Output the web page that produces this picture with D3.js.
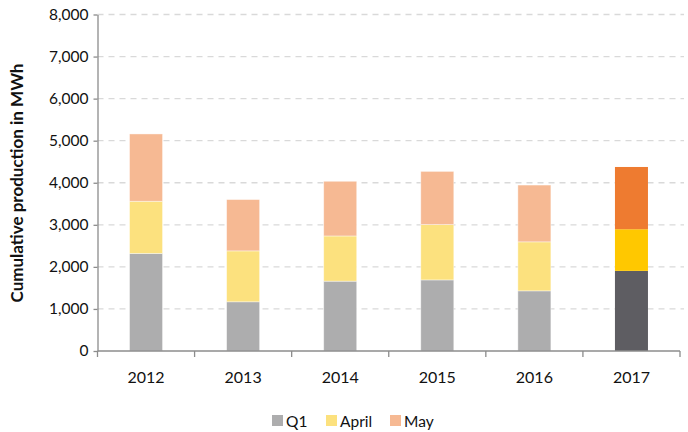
<!DOCTYPE html>
<html><head><meta charset="utf-8">
<script src="https://cdn.jsdelivr.net/npm/d3@7"></script>
<style>body{margin:0;background:#fff}svg{display:block}</style>
</head><body>
<svg id="c" width="688" height="432"></svg>
<script>
const years = ["2012","2013","2014","2015","2016","2017"];
const q1 =    [2320, 1170, 1660, 1690, 1430, 1905];
const april = [1240, 1210, 1075, 1315, 1165, 990];
const may =   [1600, 1220, 1300, 1265, 1350, 1480];
const seriesNames = ["Q1","April","May"];
const yTicks = [0,1000,2000,3000,4000,5000,6000,7000,8000];

const font = "Lato, 'Open Sans', sans-serif";
const colors = ["#ADADAE","#FCE17E","#F6B993"];
const colors2017 = ["#5E5D62","#FFC800","#EE7B30"];

const svg = d3.select("#c");
const m = {l:97.5, r:680, t:14.5, b:351};
const x = d3.scaleBand().domain(years).range([m.l, m.r]).paddingInner(0.66).paddingOuter(0.33);
const y = d3.scaleLinear().domain([0,8000]).range([m.b, m.t]);

// gridlines
svg.append("g").selectAll("line").data(yTicks.filter(d=>d>0)).join("line")
  .attr("x1", m.l).attr("x2", 684).attr("y1", d=>y(d)).attr("y2", d=>y(d))
  .attr("stroke","#D9D9D9").attr("stroke-width",1.3).attr("stroke-dasharray","6,5");

const table = years.map((yr,i)=>({year:yr, Q1:q1[i], April:april[i], May:may[i]}));
const stacked = d3.stack().keys(seriesNames)(table);
stacked.forEach((s,si)=>{
  svg.append("g").selectAll("rect").data(s).join("rect")
    .attr("x", d=>x(d.data.year)).attr("width", x.bandwidth())
    .attr("y", d=>y(d[1])).attr("height", d=>y(d[0])-y(d[1]))
    .attr("fill", d=>d.data.year==="2017"?colors2017[si]:colors[si])
    .attr("stroke", d=>d.data.year==="2017"?"none":"rgba(255,255,255,0.5)").attr("stroke-width",0.8);
});

// y axis
const ya = svg.append("g").attr("transform",`translate(${m.l},0)`)
  .call(d3.axisLeft(y).tickValues(yTicks).tickFormat(d3.format(",")).tickSize(4).tickSizeOuter(0));
ya.select(".domain").attr("stroke","#8C8C8C").attr("stroke-width",1.3);
ya.selectAll(".tick line").attr("stroke","#8C8C8C").attr("stroke-width",1.3);
ya.selectAll("text").attr("font-family",font).attr("font-size",15.5).attr("fill","#111").attr("x",-9);

// x axis
const step = (m.r-m.l)/years.length;
const xa = svg.append("g").attr("transform",`translate(0,${m.b})`);
xa.append("line").attr("x1",m.l).attr("x2",m.r).attr("stroke","#8C8C8C").attr("stroke-width",1.3);
xa.selectAll("line.t").data(d3.range(years.length+1)).join("line").attr("class","t")
  .attr("x1",i=>m.l+i*step).attr("x2",i=>m.l+i*step).attr("y1",0).attr("y2",6)
  .attr("stroke","#8C8C8C").attr("stroke-width",1.3);
xa.selectAll("text").data(years).join("text")
  .attr("x", d=>x(d)+x.bandwidth()/2).attr("y",32)
  .attr("text-anchor","middle").attr("font-family",font).attr("font-size",16).attr("fill","#111").text(d=>d);

// y label
svg.append("text").attr("transform","translate(23,183) rotate(-90)")
  .attr("text-anchor","middle").attr("font-family",font).attr("font-size",17).attr("font-weight","bold")
  .attr("fill","#111").text("Cumulative production in MWh");

// legend
const legX = [272, 326, 390];
const lg = svg.append("g");
seriesNames.forEach((n,i)=>{
  lg.append("rect").attr("x",legX[i]).attr("y",415).attr("width",11).attr("height",11).attr("fill",colors[i]);
  lg.append("text").attr("x",legX[i]+14).attr("y",426.5).attr("font-family",font).attr("font-size",15.5)
    .attr("fill","#111").text(n);
});
</script>
</body></html>
